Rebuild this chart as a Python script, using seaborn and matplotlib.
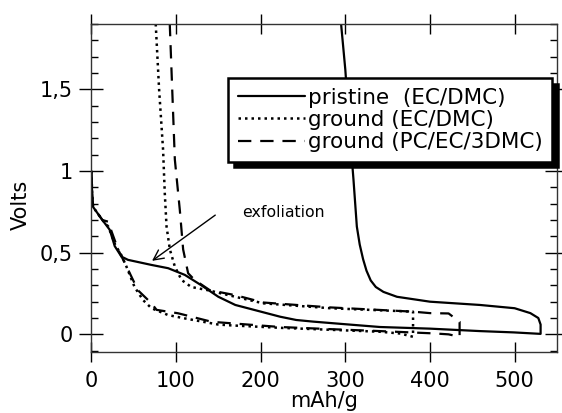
import matplotlib
matplotlib.use("Agg")
import matplotlib.pyplot as plt
import seaborn as sns
import numpy as np
from matplotlib.ticker import MultipleLocator

# values (capacity in mAh/g, potential in V)
pristine_x = [0, 1, 2, 13, 21.7, 27.6, 35.5, 43.3, 71, 90.7, 110.4, 130, 150, 170, 223, 242, 262,
              300, 341, 400, 459, 499, 527, 530.7,
              530.7, 528, 518.6, 500, 459, 400, 361, 345, 336, 330, 325, 321, 317, 313.6, 309.6, 305, 300, 295, 293]
pristine_y = [1.0, 0.85, 0.78, 0.70, 0.64, 0.54, 0.476, 0.456, 0.425, 0.405, 0.364, 0.30, 0.23, 0.18, 0.108, 0.088, 0.078,
              0.062, 0.045, 0.035, 0.02, 0.012, 0.004, 0.003,
              0.06, 0.10, 0.13, 0.16, 0.18, 0.20, 0.23, 0.26, 0.29, 0.33, 0.39, 0.46, 0.55, 0.66, 0.95, 1.25, 1.62, 1.9, 2.0]

ground_ec_x = [0, 1, 2, 13, 20, 28, 36, 41.4, 51, 61, 71, 90.7, 110, 150, 165, 223, 282, 341, 365, 380,
               380, 282, 203, 170, 138, 118, 106.5, 98.6, 92.7, 88.8, 86.7, 84.7, 80, 76, 75]
ground_ec_y = [1.0, 0.85, 0.78, 0.70, 0.66, 0.55, 0.48, 0.415, 0.29, 0.21, 0.16, 0.118, 0.098, 0.06, 0.055, 0.04, 0.028, 0.016, 0.005, -0.015,
               0.139, 0.16, 0.19, 0.23, 0.27, 0.29, 0.333, 0.415, 0.52, 0.66, 0.865, 1.13, 1.5, 1.9, 2.0]

ground_pc_x = [0, 1, 2, 13, 19.7, 31.5, 43, 55, 71, 77, 102.5, 142, 223, 282, 341, 404, 422, 435,
               435, 422, 400, 380, 282, 203, 170, 140, 122, 114.3, 108.4, 104.5, 98.6, 92.6, 92]
ground_pc_y = [1.0, 0.85, 0.78, 0.70, 0.69, 0.52, 0.40, 0.27, 0.19, 0.15, 0.129, 0.077, 0.045, 0.032, 0.02, 0.006, 0.0, -0.015,
               0.077, 0.128, 0.13, 0.139, 0.165, 0.195, 0.24, 0.27, 0.333, 0.374, 0.52, 0.76, 1.07, 1.9, 2.0]

labels = ["pristine  (EC/DMC)", "ground (EC/DMC)", "ground (PC/EC/3DMC)"]

sns.set_style("ticks")
plt.rcParams["font.family"] = ["DejaVu Sans"]
plt.rcParams["text.color"] = "black"
plt.rcParams["axes.labelcolor"] = "black"
plt.rcParams["xtick.color"] = "black"
plt.rcParams["ytick.color"] = "black"

fig = plt.figure(figsize=(5.62, 4.13), dpi=100)
ax = fig.add_axes([0.1626, 0.1477, 0.8284, 0.7942])

sns.lineplot(x=pristine_x, y=pristine_y, sort=False, estimator=None, ax=ax,
             color="black", lw=1.6, label=labels[0])
sns.lineplot(x=ground_ec_x, y=ground_ec_y, sort=False, estimator=None, ax=ax,
             color="black", lw=1.8, linestyle=(0, (1, 1.6)), label=labels[1])
sns.lineplot(x=ground_pc_x, y=ground_pc_y, sort=False, estimator=None, ax=ax,
             color="black", lw=1.6, linestyle=(0, (6, 4)), label=labels[2])

ax.set_xlim(0, 550)
ax.set_ylim(-0.108, 1.9)
ax.set_xticks([0, 100, 200, 300, 400, 500])
ax.set_yticks([0, 0.5, 1, 1.5])
ax.set_yticklabels(["0", "0,5", "1", "1,5"])
ax.yaxis.set_minor_locator(MultipleLocator(0.1))

ax.tick_params(axis="both", which="major", direction="inout", labelsize=15,
               top=True, right=True, color="black", width=1)
ax.tick_params(axis="x", which="major", length=14, pad=7)
ax.tick_params(axis="y", which="major", length=17, pad=5)
ax.tick_params(axis="y", which="minor", direction="in", length=5, right=True, width=1)
for s in ax.spines.values():
    s.set_linewidth(1.0)
    s.set_color("#333333")

ax.set_xlabel("mAh/g", fontsize=15, labelpad=0)
ax.set_ylabel("Volts", fontsize=15)
ax.yaxis.set_label_coords(-0.13, 0.45)

ax.annotate("", xy=(69, 0.44), xytext=(149, 0.74),
            arrowprops=dict(arrowstyle="->", color="black", lw=1.0, mutation_scale=18))
ax.text(178, 0.744, "exfoliation", fontsize=11.3, va="center", ha="left")

leg = ax.legend(loc="upper right", bbox_to_anchor=(0.99, 0.835), borderaxespad=0,
                fontsize=15.5, handlelength=3.1, handletextpad=0.15, labelspacing=0.1,
                borderpad=0.45, frameon=True, fancybox=False, edgecolor="black",
                shadow={"color": "black", "alpha": 1, "ox": 4, "oy": -4})
leg.get_frame().set_linewidth(1.8)

fig.savefig("out.png", dpi=100)
